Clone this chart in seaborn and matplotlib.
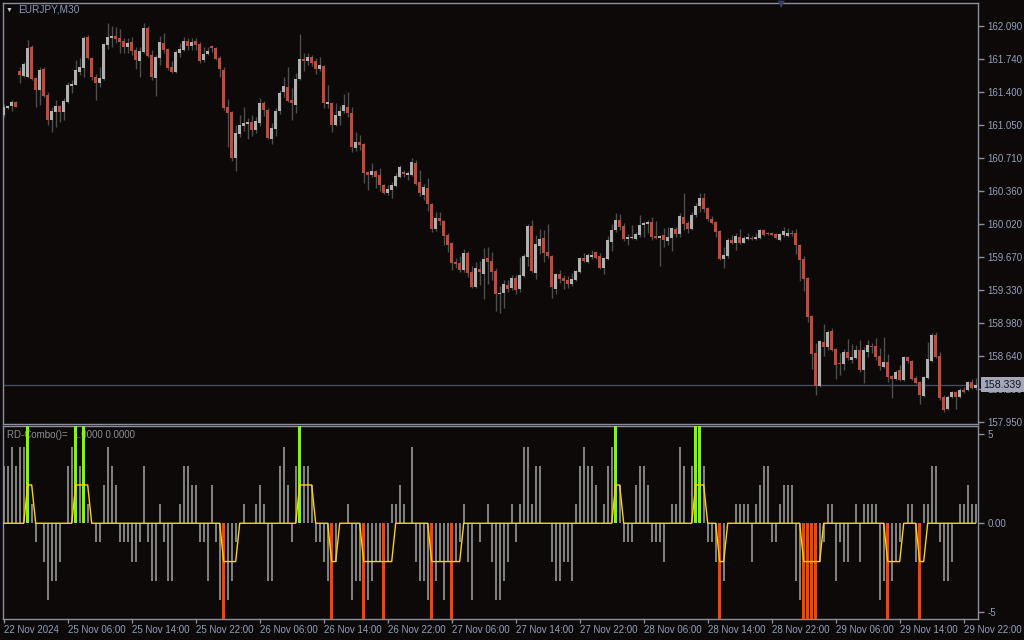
import matplotlib
matplotlib.use("Agg")
import matplotlib.pyplot as plt
import numpy as np
import seaborn as sns

# EURJPY M30 candles, bar 0 = 22 Nov 22:00, bar 4 = 25 Nov 00:00
opens = [
    161.160, 161.236, 161.254, 161.296, 161.623, 161.567, 161.554, 161.871, 161.547, 161.421,
    161.641, 161.369, 161.107, 161.191, 161.254, 161.191, 161.296, 161.463, 161.473, 161.609,
    161.651, 161.975, 161.756, 161.557, 161.494, 161.536, 161.892, 161.965, 161.986, 161.965,
    161.933, 161.871, 161.923, 161.839, 161.724, 161.818, 162.069, 161.787, 161.547, 161.756,
    161.912, 161.850, 161.662, 161.609, 161.808, 161.839, 161.933, 161.881, 161.933, 161.902,
    161.735, 161.797, 161.881, 161.860, 161.756, 161.630, 161.243, 161.191, 160.710, 160.961,
    161.045, 161.066, 161.087, 161.003, 161.076, 161.285, 161.212, 160.909, 161.013, 161.202,
    161.400, 161.452, 161.317, 161.264, 161.536, 161.745, 161.724, 161.766, 161.724, 161.641,
    161.672, 161.275, 161.285, 161.055, 161.149, 161.202, 161.243, 161.181, 160.815, 160.877,
    160.857, 160.564, 160.532, 160.574, 160.532, 160.428, 160.344, 160.376, 160.417, 160.512,
    160.564, 160.532, 160.532, 160.658, 160.459, 160.323, 160.397, 160.229, 159.968, 160.083,
    160.052, 159.905, 159.822, 159.623, 159.612, 159.539, 159.717, 159.518, 159.362, 159.550,
    159.497, 159.665, 159.633, 159.529, 159.288, 159.299, 159.382, 159.351, 159.456, 159.341,
    159.477, 159.675, 159.999, 159.508, 159.790, 159.874, 159.727, 159.686, 159.341, 159.497,
    159.456, 159.435, 159.393, 159.435, 159.518, 159.665, 159.623, 159.675, 159.727, 159.686,
    159.560, 159.654, 159.832, 159.957, 160.062, 159.999, 159.863, 159.874, 159.863, 159.905,
    160.010, 160.020, 160.041, 159.895, 159.874, 159.905, 159.842, 159.874, 159.968, 159.916,
    160.093, 160.031, 159.968, 160.114, 160.208, 160.292, 160.187, 160.072, 160.041, 159.947,
    159.654, 159.686, 159.853, 159.822, 159.884, 159.822, 159.863, 159.874, 159.863, 159.874,
    159.957, 159.926, 159.926, 159.916, 159.853, 159.905, 159.895, 159.926, 159.926, 159.801,
    159.654, 159.456, 159.058, 158.672, 158.327, 158.787, 158.734, 158.902, 158.713, 158.567,
    158.556, 158.682, 158.598, 158.619, 158.703, 158.494, 158.682, 158.745, 158.745, 158.640,
    158.525, 158.577, 158.431, 158.400, 158.494, 158.389, 158.630, 158.588, 158.410, 158.368,
    158.222, 158.410, 158.588, 158.860, 158.640, 158.212, 158.086, 158.212, 158.264, 158.212,
    158.285, 158.285, 158.368, 158.306,
]
highs = [
    161.275, 161.261, 161.317, 161.303, 161.665, 161.717, 161.944, 161.888, 161.560, 161.665,
    161.665, 161.397, 161.247, 161.317, 161.264, 161.334, 161.508, 161.526, 161.735, 161.752,
    161.986, 161.996, 161.770, 161.588, 161.665, 161.916, 162.118, 162.090, 162.083, 162.055,
    161.961, 161.961, 161.972, 161.874, 161.874, 162.118, 162.090, 161.839, 161.787, 161.986,
    162.014, 161.857, 161.724, 161.839, 161.909, 161.972, 161.961, 161.961, 161.961, 161.926,
    161.874, 161.867, 161.895, 161.874, 161.777, 161.665, 161.327, 161.205, 161.055, 161.160,
    161.247, 161.125, 161.160, 161.142, 161.334, 161.306, 161.229, 161.073, 161.236, 161.421,
    161.554, 161.665, 161.439, 161.595, 162.007, 161.804, 161.804, 161.787, 161.752, 161.763,
    161.682, 161.473, 161.299, 161.282, 161.254, 161.379, 161.400, 161.240, 160.982, 160.951,
    160.864, 160.578, 160.654, 160.585, 160.602, 160.435, 160.428, 160.463, 160.550, 160.637,
    160.585, 160.574, 160.710, 160.689, 160.585, 160.438, 160.501, 160.236, 160.149, 160.149,
    160.062, 159.923, 159.835, 159.661, 159.686, 159.755, 159.741, 159.581, 159.626, 159.633,
    159.766, 159.783, 159.727, 159.557, 159.372, 159.435, 159.435, 159.487, 159.487, 159.679,
    159.707, 160.020, 160.062, 159.905, 159.968, 159.957, 160.020, 159.693, 159.504, 159.539,
    159.487, 159.477, 159.504, 159.539, 159.672, 159.714, 159.720, 159.748, 159.741, 159.714,
    159.672, 159.895, 160.020, 160.132, 160.125, 160.027, 159.916, 160.010, 159.940, 160.114,
    160.052, 160.062, 160.093, 160.055, 159.905, 159.975, 159.992, 159.992, 159.992, 160.139,
    160.348, 160.048, 160.146, 160.236, 160.341, 160.341, 160.201, 160.104, 160.055, 159.957,
    159.783, 159.870, 159.905, 159.930, 159.964, 159.895, 159.930, 159.895, 159.930, 159.964,
    159.964, 159.940, 159.940, 159.930, 159.930, 159.985, 159.975, 159.957, 159.968, 159.811,
    159.686, 159.463, 159.069, 158.773, 158.807, 158.975, 158.912, 158.933, 158.720, 158.668,
    158.713, 158.814, 158.766, 158.755, 158.807, 158.738, 158.807, 158.773, 158.825, 158.720,
    158.835, 158.661, 158.442, 158.494, 158.546, 158.640, 158.640, 158.598, 158.431, 158.382,
    158.431, 158.787, 158.877, 158.895, 158.685, 158.232, 158.232, 158.274, 158.278, 158.302,
    158.320, 158.379, 158.396, 158.410,
]
lows = [
    161.142, 161.226, 161.205, 161.240, 161.491, 161.554, 161.543, 161.526, 161.247, 161.264,
    161.351, 161.055, 160.985, 161.038, 161.090, 161.107, 161.282, 161.386, 161.470, 161.578,
    161.560, 161.742, 161.526, 161.317, 161.449, 161.526, 161.846, 161.867, 161.909, 161.811,
    161.811, 161.811, 161.787, 161.641, 161.560, 161.804, 161.770, 161.526, 161.358, 161.682,
    161.804, 161.630, 161.602, 161.602, 161.763, 161.832, 161.839, 161.839, 161.839, 161.700,
    161.717, 161.787, 161.822, 161.735, 161.560, 161.212, 160.829, 160.682, 160.578, 160.933,
    160.996, 160.905, 160.940, 160.975, 161.045, 161.149, 160.905, 160.857, 160.940, 161.170,
    161.351, 161.299, 161.107, 161.177, 161.526, 161.623, 161.682, 161.672, 161.588, 161.623,
    161.229, 161.229, 160.985, 161.045, 161.055, 161.177, 161.142, 160.773, 160.783, 160.794,
    160.452, 160.376, 160.515, 160.400, 160.365, 160.334, 160.323, 160.295, 160.410, 160.498,
    160.515, 160.480, 160.522, 160.428, 160.313, 160.271, 160.156, 159.940, 159.950, 160.010,
    159.801, 159.731, 159.539, 159.557, 159.522, 159.522, 159.470, 159.348, 159.355, 159.382,
    159.236, 159.393, 159.435, 159.111, 159.090, 159.142, 159.313, 159.330, 159.288, 159.313,
    159.470, 159.581, 159.518, 159.445, 159.707, 159.623, 159.661, 159.247, 159.288, 159.400,
    159.341, 159.351, 159.372, 159.424, 159.511, 159.623, 159.609, 159.658, 159.651, 159.553,
    159.497, 159.644, 159.738, 159.940, 159.957, 159.846, 159.801, 159.863, 159.853, 159.888,
    159.888, 159.923, 159.853, 159.867, 159.581, 159.783, 159.801, 159.741, 159.888, 159.881,
    159.957, 159.930, 159.957, 160.097, 160.146, 160.146, 160.055, 160.020, 159.881, 159.644,
    159.560, 159.661, 159.811, 159.748, 159.811, 159.818, 159.853, 159.853, 159.853, 159.863,
    159.895, 159.905, 159.895, 159.867, 159.846, 159.888, 159.888, 159.895, 159.707, 159.428,
    159.320, 158.996, 158.504, 158.232, 158.320, 158.640, 158.703, 158.696, 158.400, 158.442,
    158.494, 158.598, 158.570, 158.609, 158.476, 158.361, 158.633, 158.668, 158.598, 158.494,
    158.511, 158.372, 158.198, 158.389, 158.382, 158.382, 158.564, 158.389, 158.347, 158.138,
    158.215, 158.400, 158.581, 158.616, 158.180, 158.058, 158.076, 158.198, 158.083, 158.198,
    158.250, 158.278, 158.292, 158.285,
]
closes = [
    161.240, 161.254, 161.296, 161.243, 161.578, 161.693, 161.860, 161.536, 161.421, 161.630,
    161.358, 161.107, 161.202, 161.254, 161.191, 161.306, 161.473, 161.484, 161.630, 161.662,
    161.965, 161.756, 161.557, 161.494, 161.547, 161.902, 161.975, 161.986, 161.954, 161.923,
    161.871, 161.912, 161.829, 161.735, 161.829, 162.069, 161.777, 161.557, 161.766, 161.923,
    161.839, 161.651, 161.609, 161.818, 161.850, 161.933, 161.881, 161.923, 161.892, 161.724,
    161.797, 161.829, 161.860, 161.745, 161.641, 161.233, 161.181, 160.710, 160.972, 161.055,
    161.076, 161.087, 161.003, 161.097, 161.285, 161.212, 160.919, 161.024, 161.202, 161.390,
    161.463, 161.306, 161.285, 161.536, 161.745, 161.724, 161.766, 161.703, 161.641, 161.682,
    161.285, 161.296, 161.055, 161.160, 161.202, 161.264, 161.181, 160.825, 160.877, 160.846,
    160.553, 160.532, 160.574, 160.512, 160.428, 160.344, 160.386, 160.428, 160.522, 160.616,
    160.543, 160.553, 160.668, 160.438, 160.344, 160.407, 160.229, 159.968, 160.083, 160.052,
    159.895, 159.801, 159.612, 159.602, 159.539, 159.717, 159.508, 159.362, 159.560, 159.518,
    159.654, 159.623, 159.518, 159.288, 159.299, 159.393, 159.341, 159.456, 159.330, 159.487,
    159.686, 159.999, 159.529, 159.811, 159.863, 159.717, 159.686, 159.362, 159.497, 159.445,
    159.424, 159.393, 159.445, 159.529, 159.665, 159.633, 159.696, 159.696, 159.665, 159.560,
    159.665, 159.853, 159.957, 160.062, 159.989, 159.863, 159.884, 159.884, 159.916, 160.010,
    160.031, 160.041, 159.884, 159.874, 159.895, 159.853, 159.884, 159.978, 159.916, 160.104,
    160.020, 159.968, 160.114, 160.208, 160.292, 160.177, 160.072, 160.031, 159.937, 159.654,
    159.696, 159.853, 159.822, 159.895, 159.822, 159.874, 159.884, 159.863, 159.884, 159.957,
    159.905, 159.916, 159.905, 159.874, 159.916, 159.947, 159.926, 159.916, 159.801, 159.644,
    159.445, 159.048, 158.661, 158.327, 158.797, 158.734, 158.891, 158.703, 158.546, 158.556,
    158.682, 158.619, 158.630, 158.703, 158.494, 158.703, 158.755, 158.734, 158.630, 158.536,
    158.577, 158.421, 158.400, 158.473, 158.389, 158.630, 158.588, 158.400, 158.358, 158.232,
    158.421, 158.609, 158.860, 158.630, 158.201, 158.076, 158.212, 158.264, 158.212, 158.285,
    158.264, 158.368, 158.306, 158.339,
]

# RD-Combo indicator: histogram, signal line and signal bars
hist = [
    3, 3, 4, 3, 4, 4, 0, 1, -1, 0, -2, -4, -3, -3, -2, 0, 3, 4, 0, 3,
    0, 1, 0, -1, -1, 2, 4, 3, 2, -1, -1, -1, -2, -2, -1, 3, -1, -3, -3, 1,
    -1, -3, -3, 0, 1, 3, 3, 2, 2, -1, -1, -3, 2, -1, -4, 0, -4, -3, -1, 0,
    1, 0, 0, 1, 2, 1, -3, -3, 0, 3, 4, 2, -1, 3, 0, 3, 3, 2, -1, -1,
    -2, -3, 0, -2, 0, 0, 1, -4, -3, -3, 0, -4, -3, -2, -2, 0, -2, 1, 1, 2,
    1, 0, 4, -2, -3, -3, -4, 0, -3, -2, -4, -2, 0, -2, -1, 1, -2, -4, 0, -1,
    0, 1, -2, -4, -4, -3, -2, 1, -1, 1, 4, 4, 1, 3, 3, 0, 0, -2, -3, -3,
    -2, -2, -3, 1, 3, 4, 3, 3, 2, 0, 1, 3, 4, 0, 2, -1, -1, -1, 2, 3,
    3, 2, -1, -1, -1, -2, 0, 1, 1, 4, 3, 0, 3, 0, 0, 3, -1, -1, -2, 0,
    -3, 0, 0, 1, 1, 1, 1, -2, 1, 2, 3, 3, -1, -1, 1, 2, 2, 2, -3, -4,
    0, 0, 0, 0, -2, -1, 1, 1, -3, -1, -2, -2, 0, 1, -2, 1, 1, 1, 1, -4,
    -3, 0, -3, -2, -1, 0, 1, 1, -2, 0, 1, 1, 3, 3, -1, -3, -3, -2, 0, 1,
    1, 2, 1, 1,
]
signal_line = [
    0, 0, 0, 0, 0, 0, 2, 2, 0, 0, 0, 0, 0, 0, 0, 0, 0, 0, 2, 2,
    2, 2, 0, 0, 0, 0, 0, 0, 0, 0, 0, 0, 0, 0, 0, 0, 0, 0, 0, 0,
    0, 0, 0, 0, 0, 0, 0, 0, 0, 0, 0, 0, 0, 0, 0, -2, -2, -2, -2, 0,
    0, 0, 0, 0, 0, 0, 0, 0, 0, 0, 0, 0, 0, 0, 2, 2, 2, 2, 0, 0,
    0, 0, -2, -2, 0, 0, 0, 0, 0, 0, -2, -2, -2, -2, -2, -2, -2, -2, 0, 0,
    0, 0, 0, 0, 0, 0, 0, -2, -2, -2, -2, -2, -2, -2, -2, 0, 0, 0, 0, 0,
    0, 0, 0, 0, 0, 0, 0, 0, 0, 0, 0, 0, 0, 0, 0, 0, 0, 0, 0, 0,
    0, 0, 0, 0, 0, 0, 0, 0, 0, 0, 0, 0, 0, 2, 2, 0, 0, 0, 0, 0,
    0, 0, 0, 0, 0, 0, 0, 0, 0, 0, 0, 0, 0, 2, 2, 2, 0, 0, 0, -2,
    -2, 0, 0, 0, 0, 0, 0, 0, 0, 0, 0, 0, 0, 0, 0, 0, 0, 0, 0, 0,
    -2, -2, -2, -2, -2, 0, 0, 0, 0, 0, 0, 0, 0, 0, 0, 0, 0, 0, 0, 0,
    0, -2, -2, -2, -2, 0, 0, 0, 0, -2, -2, 0, 0, 0, 0, 0, 0, 0, 0, 0,
    0, 0, 0, 0,
]
buy_bars = [6, 18, 20, 74, 153, 173, 174]
sell_bars = [55, 82, 90, 95, 107, 112, 179, 200, 201, 202, 203, 221, 229]

price_ticks = [157.950, 158.290, 158.640, 158.980, 159.330, 159.670,
               160.020, 160.360, 160.710, 161.050, 161.400, 161.740, 162.090]
time_ticks = list(range(0, 241, 16))
time_labels = ["22 Nov 2024", "25 Nov 06:00", "25 Nov 14:00", "25 Nov 22:00",
               "26 Nov 06:00", "26 Nov 14:00", "26 Nov 22:00", "27 Nov 06:00",
               "27 Nov 14:00", "27 Nov 22:00", "28 Nov 06:00", "28 Nov 14:00",
               "28 Nov 22:00", "29 Nov 06:00", "29 Nov 14:00", "29 Nov 22:00"]
last_price = 158.339

BG = "#0c0908"
BORDER = "#8a8e9e"
TXT = "#93a0bb"
UP = "#b0b0b0"
DOWN = "#c9463a"
WICK = "#4e4e4e"

sns.set_style("dark", rc={"axes.facecolor": BG, "figure.facecolor": BG,
                          "axes.edgecolor": BORDER, "axes.grid": False,
                          "text.color": TXT, "xtick.color": TXT, "ytick.color": TXT})
plt.rcParams["font.family"] = ["Liberation Sans", "DejaVu Sans"]

W, H = 1024, 640
fig = plt.figure(figsize=(W / 100, H / 100), dpi=100)
ax = fig.add_axes([3 / W, 1 - 424 / H, 975 / W, 421 / H])
axi = fig.add_axes([3 / W, 1 - 619 / H, 975 / W, 193 / H])

o = np.array(opens)
c = np.array(closes)
bars = np.arange(len(o))
up = c >= o
body_lo = np.minimum(o, c)
body_h = np.maximum(np.abs(c - o), 0.011)

ax.vlines(bars, lows, highs, color=WICK, lw=1, zorder=2)
ax.bar(bars, body_h, bottom=body_lo, width=0.72, lw=0,
       color=np.where(up, UP, DOWN), zorder=3)
ax.axhline(last_price, color="#4a4a60", lw=1, zorder=1)

ax.set_xlim(-0.175, 243.575)
ax.set_ylim(157.929, 162.330)
ax.set_xticks([])
ax.yaxis.tick_right()
ax.set_yticks(price_ticks)
ax.set_yticklabels([f"{v:.3f}" for v in price_ticks])
ax.tick_params(axis="y", right=True, length=4, width=1, color=BORDER,
               labelsize=7, pad=3, labelcolor=TXT)
# last-price box drawn over the 158.290 label, as in the terminal
ax.annotate(f"{last_price:.3f}", xy=(1.0, last_price), xycoords=("axes fraction", "data"),
            xytext=(4, 0), textcoords="offset points", va="center", ha="left",
            fontsize=7.6, color="#101028", annotation_clip=False, zorder=10,
            bbox=dict(boxstyle="square,pad=0.25", fc="#a3a7b6", ec="none"))

# indicator panel
axi.bar(bars, hist, width=0.55, color="#808080", lw=0, zorder=2)
axi.bar(buy_bars, [5.3] * len(buy_bars), width=0.75, color="#7cfc00", lw=0, zorder=3)
axi.bar(sell_bars, [-5.3] * len(sell_bars), width=0.75, color="#ff4000", lw=0, zorder=3)
sns.lineplot(x=bars, y=signal_line, ax=axi, color="#ffd200", lw=1, zorder=4)
axi.set_xlim(-0.175, 243.575)
axi.set_ylim(-5.0, 5.08)
axi.yaxis.tick_right()
axi.set_yticks([4.66, 0, -4.66])
axi.set_yticklabels(["5", "0.00", "-5"])
axi.tick_params(axis="y", right=True, length=4, width=1, color=BORDER,
                labelsize=7, pad=3, labelcolor=TXT)
axi.set_xticks(time_ticks)
axi.set_xticklabels(time_labels, ha="left")
axi.tick_params(axis="x", bottom=True, length=3, width=1, color=BORDER,
                labelsize=7, pad=1, labelcolor=TXT)
axi.text(7 / W, 1 - 435 / H, "RD-Combo()=  1.0000 0.0000", transform=fig.transFigure,
         fontsize=7, color="#8c8c94", va="center", ha="left", zorder=1)

for a in (ax, axi):
    for s in a.spines.values():
        s.set_color(BORDER)
        s.set_linewidth(1)

fig.text(18 / W, 1 - 10 / H, "EURJPY,M30", fontsize=7.3, color="#8898bd", va="center")
fig.text(6 / W, 1 - 10 / H, "\u25bc", fontsize=5, color="#c8c8c8", va="center")
fig.text(781 / W, 1 - 5 / H, "\u25bc", fontsize=9, color="#3c3c66", va="center", ha="center")

fig.savefig("out.png", dpi=100, facecolor=BG)
